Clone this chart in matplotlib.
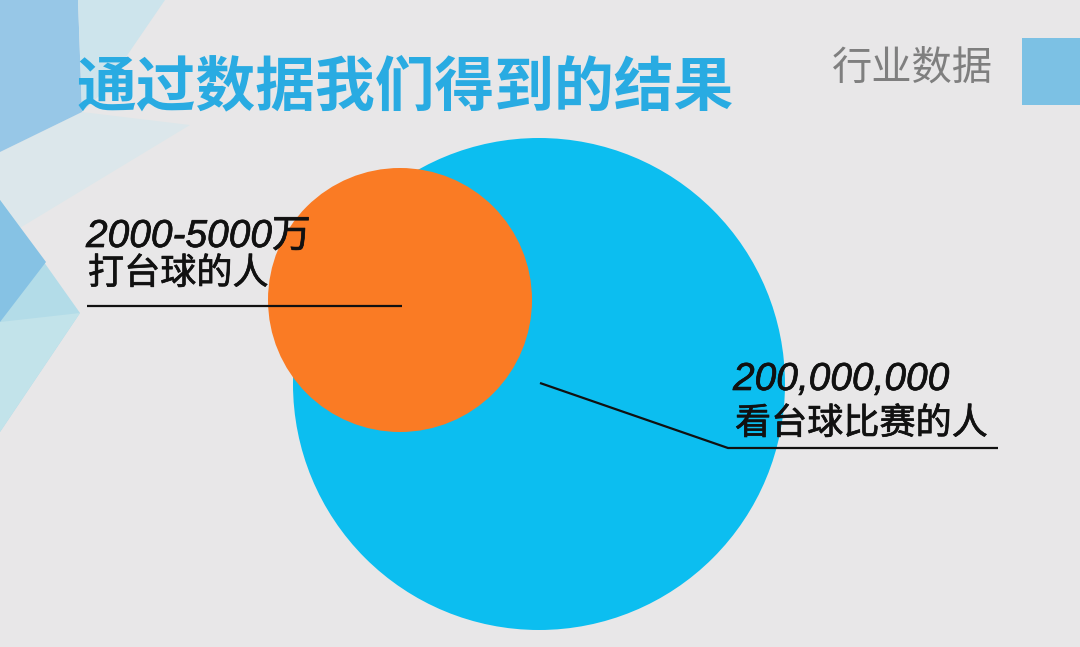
import matplotlib
matplotlib.use('Agg')
from matplotlib import pyplot as plt
from matplotlib import patheffects
from matplotlib.patches import Circle, Polygon, Rectangle

plt.rcParams['font.family'] = ['Liberation Sans', 'Noto Sans CJK SC', 'DejaVu Sans']

# chart text
title = '通过数据我们得到的结果'
section = '行业数据'
group_values = ['2000-5000万', '200,000,000']
group_names = ['打台球的人', '看台球比赛的人']

# circles: (centre x, centre y, radius, colour), big one drawn first
circles = [(539, 384, 246, '#0CBEF0'),
           (400, 300, 132, '#FA7B24')]

# soft polygon decoration on the left edge
deco = [
    ([(0, 152), (82, 112), (190, 125), (0, 240)], '#DCE7EB'),
    ([(0, 0), (78, 0), (82, 112), (0, 152)], '#97C7E7'),
    ([(78, 0), (165, 0), (100, 95), (82, 112)], '#CDE4EC'),
    ([(0, 200), (80, 313), (0, 432)], '#B3DCE8'),
    ([(0, 200), (46, 262), (0, 322)], '#86C2E4'),
    ([(0, 322), (80, 313), (0, 432)], '#C2E3EA'),
]

fig = plt.figure(figsize=(10.8, 6.47), dpi=100)
fig.patch.set_facecolor('#E8E7E8')
ax = fig.add_axes([0, 0, 1, 1])
ax.set_xlim(0, 1080)
ax.set_ylim(647, 0)
ax.axis('off')

for pts, col in deco:
    ax.add_patch(Polygon(pts, closed=True, facecolor=col, edgecolor='none', zorder=1))

ax.add_patch(Rectangle((1022, 38), 70, 67, facecolor='#7CC1E4', edgecolor='none', zorder=1))

for cx, cy, r, col in circles:
    ax.add_patch(Circle((cx, cy), r, facecolor=col, edgecolor='none', zorder=2))

# leader lines
ax.plot([87, 402], [306, 306], color='#111111', lw=1.6, zorder=3, solid_capstyle='butt')
ax.plot([540, 728, 998], [383, 448, 448], color='#111111', lw=1.6, zorder=3, solid_capstyle='butt')

ax.text(77, 88, title, fontsize=43, fontweight='bold', color='#29ABE2',
        family=['Noto Sans CJK SC'], va='center', ha='left', zorder=4)
ax.text(832, 68, section, fontsize=29, color='#7F7F7F',
        family=['Noto Sans CJK SC'], va='center', ha='left', zorder=4)

# labels a touch heavier than the regular face
heavy = [patheffects.withStroke(linewidth=0.5, foreground='#111111')]
ax.text(86, 247, group_values[0], fontsize=28, fontstyle='italic', color='#111111',
        va='baseline', ha='left', zorder=4, path_effects=heavy)
ax.text(88, 284, group_names[0], fontsize=26, color='#111111',
        family=['Noto Sans CJK SC'], va='baseline', ha='left', zorder=4, path_effects=heavy)
ax.text(733, 390, group_values[1], fontsize=28, fontstyle='italic', color='#111111',
        va='baseline', ha='left', zorder=4, path_effects=heavy)
ax.text(735, 434, group_names[1], fontsize=26, color='#111111',
        family=['Noto Sans CJK SC'], va='baseline', ha='left', zorder=4, path_effects=heavy)

fig.savefig('out.png', dpi=100, facecolor=fig.get_facecolor())
